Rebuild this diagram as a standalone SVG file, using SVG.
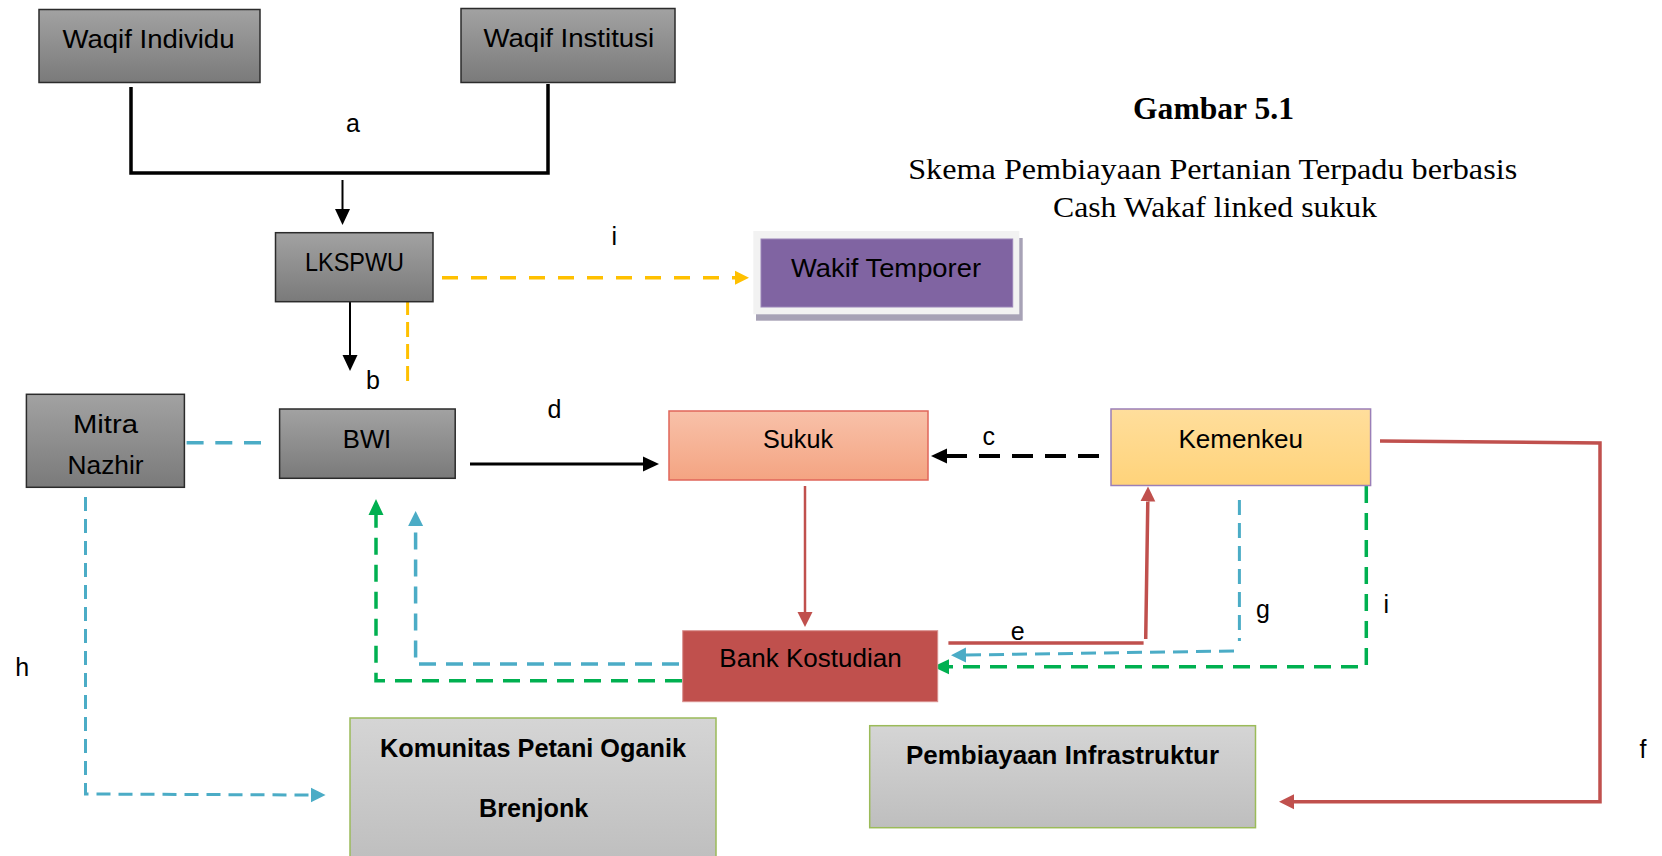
<svg xmlns="http://www.w3.org/2000/svg" width="1662" height="856" viewBox="0 0 1662 856">
<style>
.lbl{font-family:"Liberation Sans",Arial,sans-serif;font-size:25px;fill:#000;text-anchor:middle}
.bold{font-weight:bold}
.ttl{font-family:"Liberation Serif","Times New Roman",serif;fill:#000;text-anchor:middle}
.gray{fill:url(#gGray);stroke:#2b2b2b;stroke-width:1.5}
.light{fill:url(#gLight);stroke:#9BBB59;stroke-width:1.5}
.ln{fill:none}
.blk{stroke:#000}
.red{stroke:#C0504D}
.blue{stroke:#4BACC6}
.green{stroke:#00B050}
.yel{stroke:#FFC000}
</style>
<defs>
<linearGradient id="gGray" x1="0" y1="0" x2="0" y2="1"><stop offset="0" stop-color="#A2A2A2"/><stop offset="1" stop-color="#7A7A7A"/></linearGradient>
<linearGradient id="gLight" x1="0" y1="0" x2="0" y2="1"><stop offset="0" stop-color="#D5D5D5"/><stop offset="1" stop-color="#BEBEBE"/></linearGradient>
<linearGradient id="gSukuk" x1="0" y1="0" x2="0" y2="1"><stop offset="0" stop-color="#F8C1A9"/><stop offset="1" stop-color="#F4A482"/></linearGradient>
<linearGradient id="gKem" x1="0" y1="0" x2="0" y2="1"><stop offset="0" stop-color="#FFDE9C"/><stop offset="1" stop-color="#FFD37A"/></linearGradient>
<marker id="mBlk" markerUnits="userSpaceOnUse" markerWidth="16" markerHeight="16" refX="0" refY="8" orient="auto"><path d="M0,0.5 L16,8 L0,15.5 z" fill="#000"/></marker>
<marker id="mRed" markerUnits="userSpaceOnUse" markerWidth="16" markerHeight="16" refX="0" refY="8" orient="auto"><path d="M0,0.5 L15,8 L0,15.5 z" fill="#C0504D"/></marker>
<marker id="mBlue" markerUnits="userSpaceOnUse" markerWidth="16" markerHeight="16" refX="0" refY="8" orient="auto"><path d="M0,0.5 L15,8 L0,15.5 z" fill="#4BACC6"/></marker>
<marker id="mGreen" markerUnits="userSpaceOnUse" markerWidth="16" markerHeight="16" refX="0" refY="8" orient="auto"><path d="M0,0.5 L16,8 L0,15.5 z" fill="#00B050"/></marker>
<marker id="mYel" markerUnits="userSpaceOnUse" markerWidth="16" markerHeight="16" refX="0" refY="8" orient="auto"><path d="M0,1 L14,8 L0,15 z" fill="#FFC000"/></marker>
</defs>
<rect width="1662" height="856" fill="#fff"/>

<g id="title">
<text class="ttl bold" x="1213.5" y="119.3" font-size="31" textLength="161" lengthAdjust="spacingAndGlyphs">Gambar 5.1</text>
<text class="ttl" x="1212.7" y="179.3" font-size="29" textLength="609" lengthAdjust="spacingAndGlyphs">Skema Pembiayaan Pertanian Terpadu berbasis</text>
<text class="ttl" x="1215" y="216.7" font-size="29" textLength="324" lengthAdjust="spacingAndGlyphs">Cash Wakaf linked sukuk</text>
</g>

<g id="connectors">
<!-- a -->
<polyline class="ln blk" stroke-width="3.5" points="131,87 131,173 548,173 548,84"/>
<line class="ln blk" stroke-width="2" x1="342.5" y1="180" x2="342.5" y2="209" marker-end="url(#mBlk)"/>
<!-- b -->
<line class="ln blk" stroke-width="2" x1="350" y1="301" x2="350" y2="355" marker-end="url(#mBlk)"/>
<!-- i yellow -->
<line class="ln yel" stroke-width="3.5" x1="442" y1="277.7" x2="735" y2="277.7" stroke-dasharray="16 13" marker-end="url(#mYel)"/>
<line class="ln yel" stroke-width="3" x1="407.6" y1="300" x2="407.6" y2="383" stroke-dasharray="15 7"/>
<!-- Mitra - BWI -->
<line class="ln blue" stroke-width="3.5" x1="186.6" y1="442.7" x2="272.7" y2="442.7" stroke-dasharray="17 11.7"/>
<!-- d -->
<line class="ln blk" stroke-width="3" x1="470" y1="464" x2="643" y2="464" marker-end="url(#mBlk)"/>
<!-- c -->
<line class="ln blk" stroke-width="4" x1="1099" y1="456" x2="947" y2="456" stroke-dasharray="21 12" marker-end="url(#mBlk)"/>
<!-- h -->
<path class="ln blue" stroke-width="3" d="M85.5,497 V794 L310.6,795" stroke-dasharray="14 8" marker-end="url(#mBlue)"/>
<!-- Sukuk -> Bank -->
<line class="ln red" stroke-width="2.5" x1="805" y1="486" x2="805" y2="612" marker-end="url(#mRed)"/>
<!-- Bank -> BWI green -->
<path class="ln green" stroke-width="3.5" d="M682,680.7 H376 V515" stroke-dasharray="17 10" marker-end="url(#mGreen)"/>
<!-- Bank -> BWI blue -->
<path class="ln blue" stroke-width="3.5" d="M679,664 H415.6 V526" stroke-dasharray="17 10" marker-end="url(#mBlue)"/>
<!-- e -->
<path class="ln red" stroke-width="3.5" d="M948.4,643 H1143.6 M1145.7,639 L1147.8,501.5" marker-end="url(#mRed)"/>
<!-- g -->
<path class="ln blue" stroke-width="3" d="M1239.4,500 V641 M1234,651 L966,655" stroke-dasharray="15 8" marker-end="url(#mBlue)"/>
<!-- i green -->
<path class="ln green" stroke-width="3.5" d="M1366.3,486 V664 L1366.3,666.7 H949" stroke-dasharray="17 10" marker-end="url(#mGreen)"/>
<!-- f -->
<path class="ln red" stroke-width="3.5" d="M1380,441 L1600,443 V801.7 H1294" marker-end="url(#mRed)"/>
</g>

<g id="labels">
<text class="lbl" x="353" y="131.7" font-size="26">a</text>
<text class="lbl" x="373" y="389.3" font-size="26">b</text>
<text class="lbl" x="614.3" y="245" font-size="26">i</text>
<text class="lbl" x="554.5" y="418.3" font-size="26">d</text>
<text class="lbl" x="988.7" y="445" font-size="26">c</text>
<text class="lbl" x="22.3" y="676" font-size="26">h</text>
<text class="lbl" x="1017.7" y="640" font-size="26">e</text>
<text class="lbl" x="1263" y="618.3" font-size="26">g</text>
<text class="lbl" x="1386.3" y="612.7" font-size="26">i</text>
<text class="lbl" x="1643" y="758.3" font-size="26">f</text>
</g>

<g id="waqif-individu">
<rect class="gray" x="39" y="9.5" width="221" height="73"/>
<text class="lbl" x="148.5" y="48.3" textLength="172" lengthAdjust="spacingAndGlyphs">Waqif Individu</text>
</g>
<g id="waqif-institusi">
<rect class="gray" x="461" y="8.5" width="214" height="74"/>
<text class="lbl" x="568.8" y="46.7" textLength="170.5" lengthAdjust="spacingAndGlyphs">Waqif Institusi</text>
</g>
<g id="lkspwu">
<rect class="gray" x="275.5" y="232.7" width="157.5" height="69"/>
<text class="lbl" x="354.5" y="270.7" textLength="99" lengthAdjust="spacingAndGlyphs">LKSPWU</text>
</g>
<g id="wakif-temporer">
<rect x="756" y="238" width="266.7" height="82.7" fill="#A7A2B6"/>
<rect x="753.3" y="231" width="266" height="83.3" fill="#F2F2F2"/>
<rect x="761" y="239" width="251.7" height="68" fill="#8064A2" stroke="#9A84B8" stroke-width="1"/>
<text class="lbl" x="886" y="276.7" textLength="190" lengthAdjust="spacingAndGlyphs">Wakif Temporer</text>
</g>
<g id="mitra-nazhir">
<rect class="gray" x="26.4" y="394.3" width="158" height="93"/>
<text class="lbl" x="105.5" y="433.3" textLength="65" lengthAdjust="spacingAndGlyphs">Mitra</text>
<text class="lbl" x="105.6" y="474.3" textLength="76" lengthAdjust="spacingAndGlyphs">Nazhir</text>
</g>
<g id="bwi">
<rect class="gray" x="279.6" y="409" width="175.6" height="69.3"/>
<text class="lbl" x="367" y="447.7" textLength="48.5" lengthAdjust="spacingAndGlyphs">BWI</text>
</g>
<g id="sukuk">
<rect x="669" y="411" width="259" height="69" fill="url(#gSukuk)" stroke="#E0665A" stroke-width="1.5"/>
<text class="lbl" x="798" y="448.3" textLength="70" lengthAdjust="spacingAndGlyphs">Sukuk</text>
</g>
<g id="kemenkeu">
<rect x="1111" y="409" width="259.6" height="76.5" fill="url(#gKem)" stroke="#9A7FB8" stroke-width="1.5"/>
<text class="lbl" x="1240.7" y="448.3" textLength="124.5" lengthAdjust="spacingAndGlyphs">Kemenkeu</text>
</g>
<g id="bank-kostudian">
<rect x="682.7" y="630.7" width="255" height="71" fill="#C0504D" stroke="#D9908E" stroke-width="1"/>
<text class="lbl" x="810.5" y="666.7" textLength="182.3" lengthAdjust="spacingAndGlyphs">Bank Kostudian</text>
</g>
<g id="komunitas">
<rect class="light" x="350" y="718" width="366" height="145"/>
<text class="lbl bold" x="533" y="756.7" textLength="306" lengthAdjust="spacingAndGlyphs">Komunitas Petani Oganik</text>
<text class="lbl bold" x="533.7" y="817.3" textLength="109.4" lengthAdjust="spacingAndGlyphs">Brenjonk</text>
</g>
<g id="pembiayaan">
<rect class="light" x="869.7" y="725.7" width="385.8" height="102"/>
<text class="lbl bold" x="1062.5" y="764" textLength="313" lengthAdjust="spacingAndGlyphs">Pembiayaan Infrastruktur</text>
</g>
</svg>
